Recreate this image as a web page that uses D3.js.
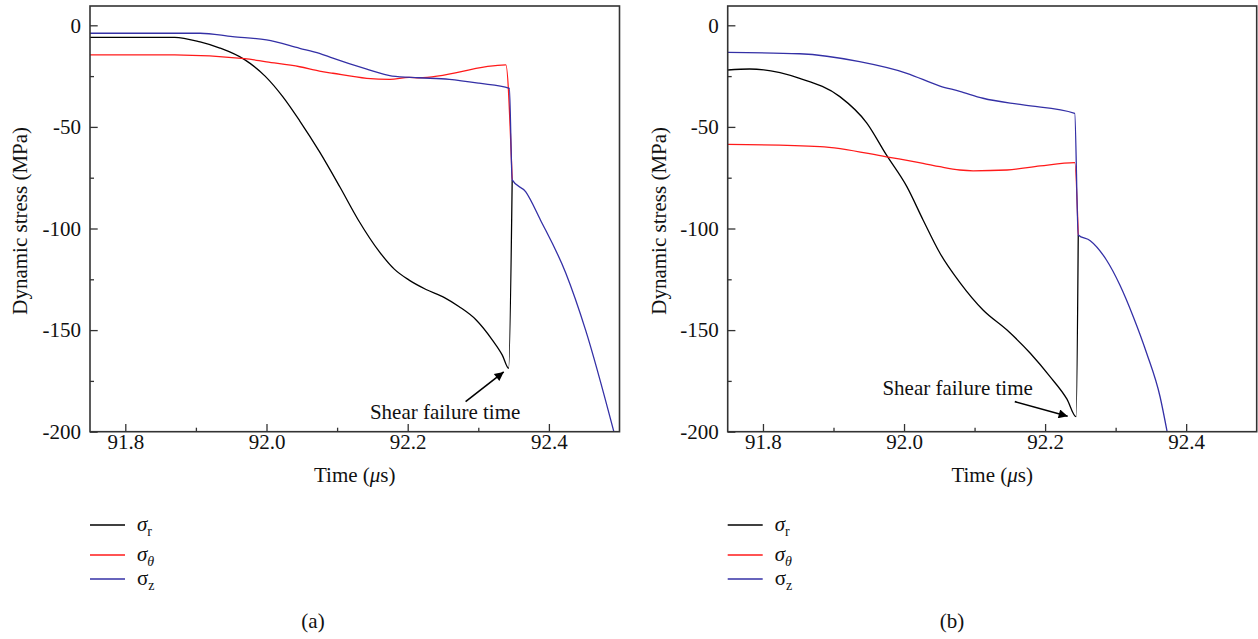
<!DOCTYPE html>
<html>
<head>
<meta charset="utf-8">
<script src="https://cdn.jsdelivr.net/npm/d3@7"></script>
<style>
  body { margin: 0; background: #fff; }
  text { font-family: "Liberation Serif", "Times New Roman", serif; fill: #111; }
</style>
</head>
<body>
<div id="container"></div>
<script>
/**
 * DATA  (time in microseconds, stress in MPa)
 * */
const xTicks = [91.8, 92.0, 92.2, 92.4];
const xMinorTicks = [91.9, 92.1, 92.3];
const yTicks = [0, -50, -100, -150, -200];
const yMinorTicks = [-25, -75, -125, -175];

const seriesNames = ["r", "θ", "z"];
const seriesColors = ["#000000", "#ff1a1a", "#3430a6"];
const panelLabels = ["(a)", "(b)"];

// panel (a)
const sigmaR_a = [[91.75,-5.9],[91.87,-5.9],[91.906,-8.2],[91.934,-11.2],[91.969,-16.9],[91.998,-25.0],
  [92.023,-35.1],[92.047,-47.0],[92.075,-62.2],[92.104,-79.6],[92.130,-95.8],[92.160,-111.5],
  [92.181,-120.0],[92.202,-125.4],[92.226,-130.0],[92.252,-134.0],[92.273,-138.5],[92.297,-145],
  [92.320,-154.9],[92.334,-162.3],[92.343,-168.8],[92.348,-76]];
const sigmaT_a = [[91.75,-14.6],[91.87,-14.6],[91.969,-16.4],[92.0,-18.0],[92.047,-20.4],[92.075,-22.5],
  [92.094,-23.6],[92.142,-26.1],[92.175,-26.6],[92.202,-25.6],[92.216,-25.8],[92.339,-19.5],[92.348,-76]];
const sigmaZ_a = [[91.75,-3.9],[91.906,-3.9],[91.952,-5.6],[92.0,-7.2],[92.047,-11.3],[92.075,-13.8],
  [92.094,-16.2],[92.141,-21.5],[92.178,-25],[92.216,-25.8],[92.259,-26.6],[92.301,-28.5],[92.344,-31],
  [92.348,-76.1],[92.367,-81.9],[92.388,-95.8],[92.424,-122],[92.452,-150],[92.492,-200]];

// panel (b)
const sigmaR_b = [[91.75,-22.0],[91.781,-21.5],[91.852,-26.1],[91.909,-35.1],[91.947,-48.0],[91.975,-63.8],
  [92.004,-79.4],[92.027,-95.8],[92.051,-112.2],[92.079,-126.5],[92.112,-140.1],[92.146,-150],
  [92.179,-161.4],[92.207,-172.9],[92.231,-184.0],[92.244,-192.6],[92.247,-103.2]];
const sigmaT_b = [[91.75,-58.6],[91.881,-59.7],[91.975,-64.7],[92.027,-67.9],[92.051,-69.6],[92.079,-71.2],
  [92.098,-71.6],[92.146,-71.2],[92.193,-69.2],[92.242,-67.6],[92.247,-103.2]];
const sigmaZ_b = [[91.75,-13.3],[91.852,-14.0],[91.937,-17.9],[92.004,-23.6],[92.051,-29.9],[92.079,-32.5],
  [92.112,-35.9],[92.169,-39.2],[92.242,-43.3],[92.247,-103.2],[92.264,-106],[92.287,-115.5],
  [92.306,-127.8],[92.325,-143.4],[92.344,-161.4],[92.363,-182.8],[92.373,-200]];

// annotation arrows: [tailT, tailV, tipT, tipV], text anchor [t, v]
const arrow_a = [92.282, -185.2, 92.336, -170.6];
const arrow_b = [92.157, -185.2, 92.232, -192.4];
const note_a = [92.253, -193.7];
const note_b = [92.076, -181.9];

/**
 * CONSTANTS
 * */
const width = 1258, height = 639;
const xDomain = [91.75, 92.5], yDomain = [-200, 9.5];
const plotTop = 6, plotBottom = 431.7;
const fontSize = "21px";

const panels = [
  {left: 90, right: 619.5, series: [sigmaR_a, sigmaT_a, sigmaZ_a], arrow: arrow_a, note: note_a,
   yTitleX: 27, legendX: 90, labelX: 313},
  {left: 727.7, right: 1256.7, series: [sigmaR_b, sigmaT_b, sigmaZ_b], arrow: arrow_b, note: note_b,
   yTitleX: 666, legendX: 727.7, labelX: 952}
];

const svg = d3.select("#container").append("svg")
  .attr("width", width)
  .attr("height", height);

const defs = svg.append("defs");
defs.append("marker")
  .attr("id", "arrowhead")
  .attr("viewBox", "0 0 10 10")
  .attr("refX", 10).attr("refY", 5)
  .attr("markerWidth", 11).attr("markerHeight", 9)
  .attr("markerUnits", "userSpaceOnUse")
  .attr("orient", "auto")
  .append("path")
  .attr("d", "M0,0 L10,5 L0,10 Z")
  .attr("fill", "#000");

panels.forEach((p, i) => drawPanel(p, i));

function drawPanel(p, i) {
  const x = d3.scaleLinear().domain(xDomain).range([p.left, p.right]);
  const y = d3.scaleLinear().domain(yDomain).range([plotBottom, plotTop]);

  defs.append("clipPath").attr("id", "clip" + i)
    .append("rect")
    .attr("x", p.left).attr("y", plotTop)
    .attr("width", p.right - p.left).attr("height", plotBottom - plotTop);

  const g = svg.append("g");

  // lines
  const line = d3.line()
    .x(d => x(d[0]))
    .y(d => y(d[1]))
    .curve(d3.curveMonotoneX);

  g.append("g").attr("clip-path", `url(#clip${i})`)
    .selectAll("path")
    .data(p.series)
    .join("path")
    .attr("d", line)
    .attr("fill", "none")
    .attr("stroke", (d, k) => seriesColors[k])
    .attr("stroke-width", 1.3);

  // axes (ticks inward)
  const fmt = d => String(d);
  g.append("g").attr("transform", `translate(0,${plotBottom})`)
    .call(d3.axisBottom(x).tickValues(xTicks).tickFormat(d => d.toFixed(1))
      .tickSizeInner(-7.7).tickSizeOuter(0).tickPadding(2));
  g.append("g").attr("transform", `translate(0,${plotBottom})`)
    .call(d3.axisBottom(x).tickValues(xMinorTicks).tickFormat("")
      .tickSizeInner(-4).tickSizeOuter(0));
  g.append("g").attr("transform", `translate(${p.left},0)`)
    .call(d3.axisLeft(y).tickValues(yTicks).tickFormat(fmt)
      .tickSizeInner(-7.7).tickSizeOuter(0).tickPadding(9));
  g.append("g").attr("transform", `translate(${p.left},0)`)
    .call(d3.axisLeft(y).tickValues(yMinorTicks).tickFormat("")
      .tickSizeInner(-4).tickSizeOuter(0));

  g.selectAll(".domain").remove();
  g.selectAll(".tick line").attr("stroke", "#333").attr("stroke-width", 1.3);
  g.selectAll(".tick text")
    .style("font-family", '"Liberation Serif", serif')
    .style("font-size", fontSize)
    .attr("fill", "#111");

  // frame
  g.append("rect")
    .attr("x", p.left).attr("y", plotTop)
    .attr("width", p.right - p.left).attr("height", plotBottom - plotTop)
    .attr("fill", "none")
    .attr("stroke", "#333")
    .attr("stroke-width", 1.6);

  // axis titles
  g.append("text")
    .attr("transform", `translate(${p.yTitleX},${(plotTop + plotBottom) / 2 + 2}) rotate(-90)`)
    .attr("text-anchor", "middle")
    .style("font-size", fontSize)
    .text("Dynamic stress (MPa)");

  const xt = g.append("text")
    .attr("x", (p.left + p.right) / 2)
    .attr("y", 482)
    .attr("text-anchor", "middle")
    .style("font-size", fontSize);
  xt.append("tspan").text("Time (");
  xt.append("tspan").attr("font-style", "italic").text("μ");
  xt.append("tspan").text("s)");

  // annotation
  g.append("line")
    .attr("x1", x(p.arrow[0])).attr("y1", y(p.arrow[1]))
    .attr("x2", x(p.arrow[2])).attr("y2", y(p.arrow[3]))
    .attr("stroke", "#000")
    .attr("stroke-width", 1.6)
    .attr("marker-end", "url(#arrowhead)");
  g.append("text")
    .attr("x", x(p.note[0])).attr("y", y(p.note[1]))
    .attr("text-anchor", "middle")
    .style("font-size", fontSize)
    .text("Shear failure time");

  // legend
  const legendY = [525, 555, 579];
  const leg = g.selectAll(".leg")
    .data(seriesNames)
    .join("g")
    .attr("class", "leg")
    .attr("transform", (d, k) => `translate(${p.legendX},${legendY[k]})`);
  leg.append("line")
    .attr("x1", 0).attr("x2", 35)
    .attr("stroke", (d, k) => seriesColors[k])
    .attr("stroke-width", 1.3);
  const lt = leg.append("text")
    .attr("x", 47).attr("y", 6)
    .style("font-size", fontSize);
  lt.append("tspan")
    .attr("font-style", (d, k) => k < 2 ? "italic" : "normal")
    .text("σ");
  lt.append("tspan")
    .attr("dy", 5)
    .attr("font-style", d => d === "θ" ? "italic" : "normal")
    .style("font-size", "14px")
    .text(d => d);

  // panel label
  g.append("text")
    .attr("x", p.labelX).attr("y", 628)
    .attr("text-anchor", "middle")
    .style("font-size", fontSize)
    .text(panelLabels[i]);
}
</script>
</body>
</html>
